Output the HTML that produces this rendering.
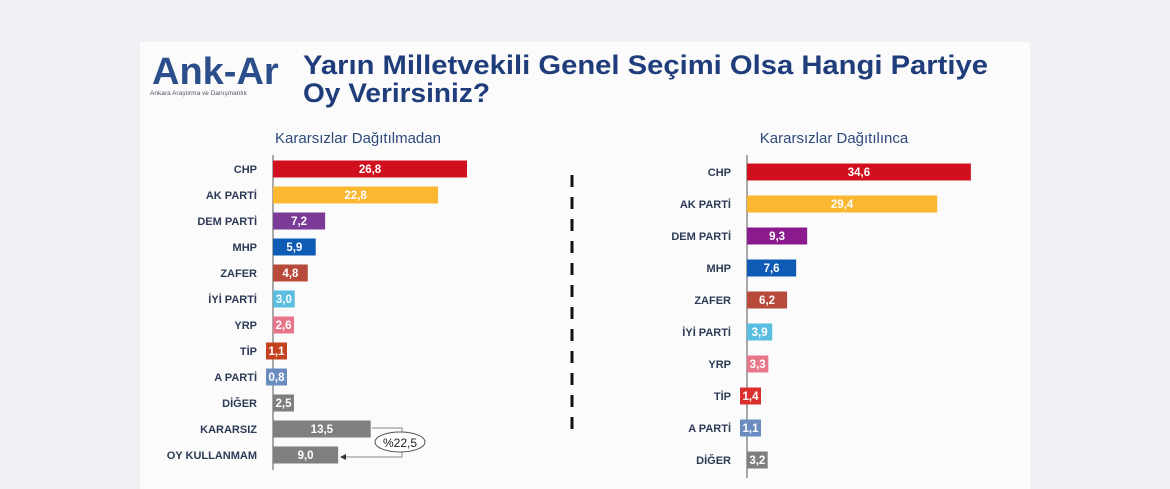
<!DOCTYPE html>
<html><head><meta charset="utf-8"><style>
body{margin:0;width:1170px;height:489px;background:#eef0f3;overflow:hidden;font-family:"Liberation Sans",sans-serif}
svg{display:block}
</style></head><body>
<svg id="c" width="1170" height="489" xmlns="http://www.w3.org/2000/svg">
<rect x="140" y="42" width="890" height="447" fill="#fbfbfc"/>
<g>
<text x="152" y="84" font-size="38" font-weight="bold" fill="#2a4f8a">Ank-Ar</text>
<text x="150" y="95" font-size="6.5" fill="#556">Ankara Araştırma ve Danışmanlık</text>
</g>
<text x="303" y="74" font-size="27" font-weight="bold" fill="#1f3d7a" textLength="685" lengthAdjust="spacingAndGlyphs">Yarın Milletvekili Genel Seçimi Olsa Hangi Partiye</text>
<text x="303" y="102" font-size="27" font-weight="bold" fill="#1f3d7a" textLength="187" lengthAdjust="spacingAndGlyphs">Oy Verirsiniz?</text>
<text x="358" y="143" font-size="15" fill="#2d4a7a" text-anchor="middle">Kararsızlar Dağıtılmadan</text>
<text x="834" y="143" font-size="15" fill="#2d4a7a" text-anchor="middle">Kararsızlar Dağıtılınca</text>
<line x1="572" y1="175" x2="572" y2="430" stroke="#111" stroke-width="3" stroke-dasharray="12,10"/>
<g id="left"></g><g id="right"></g>
<g>
<polyline points="372,428 402,428 402,457 345,457" fill="none" stroke="#888" stroke-width="1"/>
<polygon points="340,457 346,454 346,460" fill="#333"/>
<ellipse cx="400" cy="442" rx="25" ry="10" fill="#fff" stroke="#555" stroke-width="1"/>
<text x="400" y="447" font-size="12" fill="#222" text-anchor="middle">%22,5</text>
</g>
</svg>
<script>
const leftCats=["CHP","AK PARTİ","DEM PARTİ","MHP","ZAFER","İYİ PARTİ","YRP","TİP","A PARTİ","DİĞER","KARARSIZ","OY KULLANMAM"];
const leftVals=[26.8,22.8,7.2,5.9,4.8,3.0,2.6,1.1,0.8,2.5,13.5,9.0];
const leftColors=["#d0101e","#fbb731","#7b3a96","#0e5bb5","#b84a3c","#5bbde0","#e8768a","#c3421f","#6a8cc0","#7f7f7f","#7f7f7f","#7f7f7f"];
const rightCats=["CHP","AK PARTİ","DEM PARTİ","MHP","ZAFER","İYİ PARTİ","YRP","TİP","A PARTİ","DİĞER"];
const rightVals=[34.6,29.4,9.3,7.6,6.2,3.9,3.3,1.4,1.1,3.2];
const rightColors=["#d0101e","#fbb731","#8b1a8f","#0e5bb5","#b84a3c","#5bbde0","#e8768a","#d9302f","#6a8cc0","#7f7f7f"];
const NS="http://www.w3.org/2000/svg";
function mk(t,a,p){const e=document.createElementNS(NS,t);for(const k in a)e.setAttribute(k,a[k]);p.appendChild(e);return e;}
function draw(g,cats,vals,cols,axisX,scale,y0,step,bh,yTop,yBot){
  const ax=mk("line",{x1:axisX,y1:yTop,x2:axisX,y2:yBot,stroke:"#555","stroke-width":1},g);
  
  
  cats.forEach((c,i)=>{
    const cy=y0+i*step, w=vals[i]*scale;
    let x=axisX, bw=w;
    if(w<20){bw=21;x=vals[i]<2?axisX-7:axisX;}
    const r=mk("rect",{x:x,y:cy-bh/2,width:bw,height:bh,fill:cols[i]},g);
    
    
    const l=mk("text",{x:axisX-16,y:cy+4,"font-size":11,"font-weight":"bold",fill:"#2c3a55","text-anchor":"end"},g);
    l.textContent=c;
    
    
    const v=mk("text",{x:x+bw/2,y:cy+4,"font-size":11.5,"font-weight":"bold",fill:"#fff","text-anchor":"middle"},g);
    v.textContent=vals[i].toFixed(1).replace('.',',');
    
    
  });
}
draw(document.getElementById('left'),leftCats,leftVals,leftColors,273,7.24,169,26.0,17,155,470);
draw(document.getElementById('right'),rightCats,rightVals,rightColors,747,6.47,172,32.0,17,155,478);
</script>
</body></html>
